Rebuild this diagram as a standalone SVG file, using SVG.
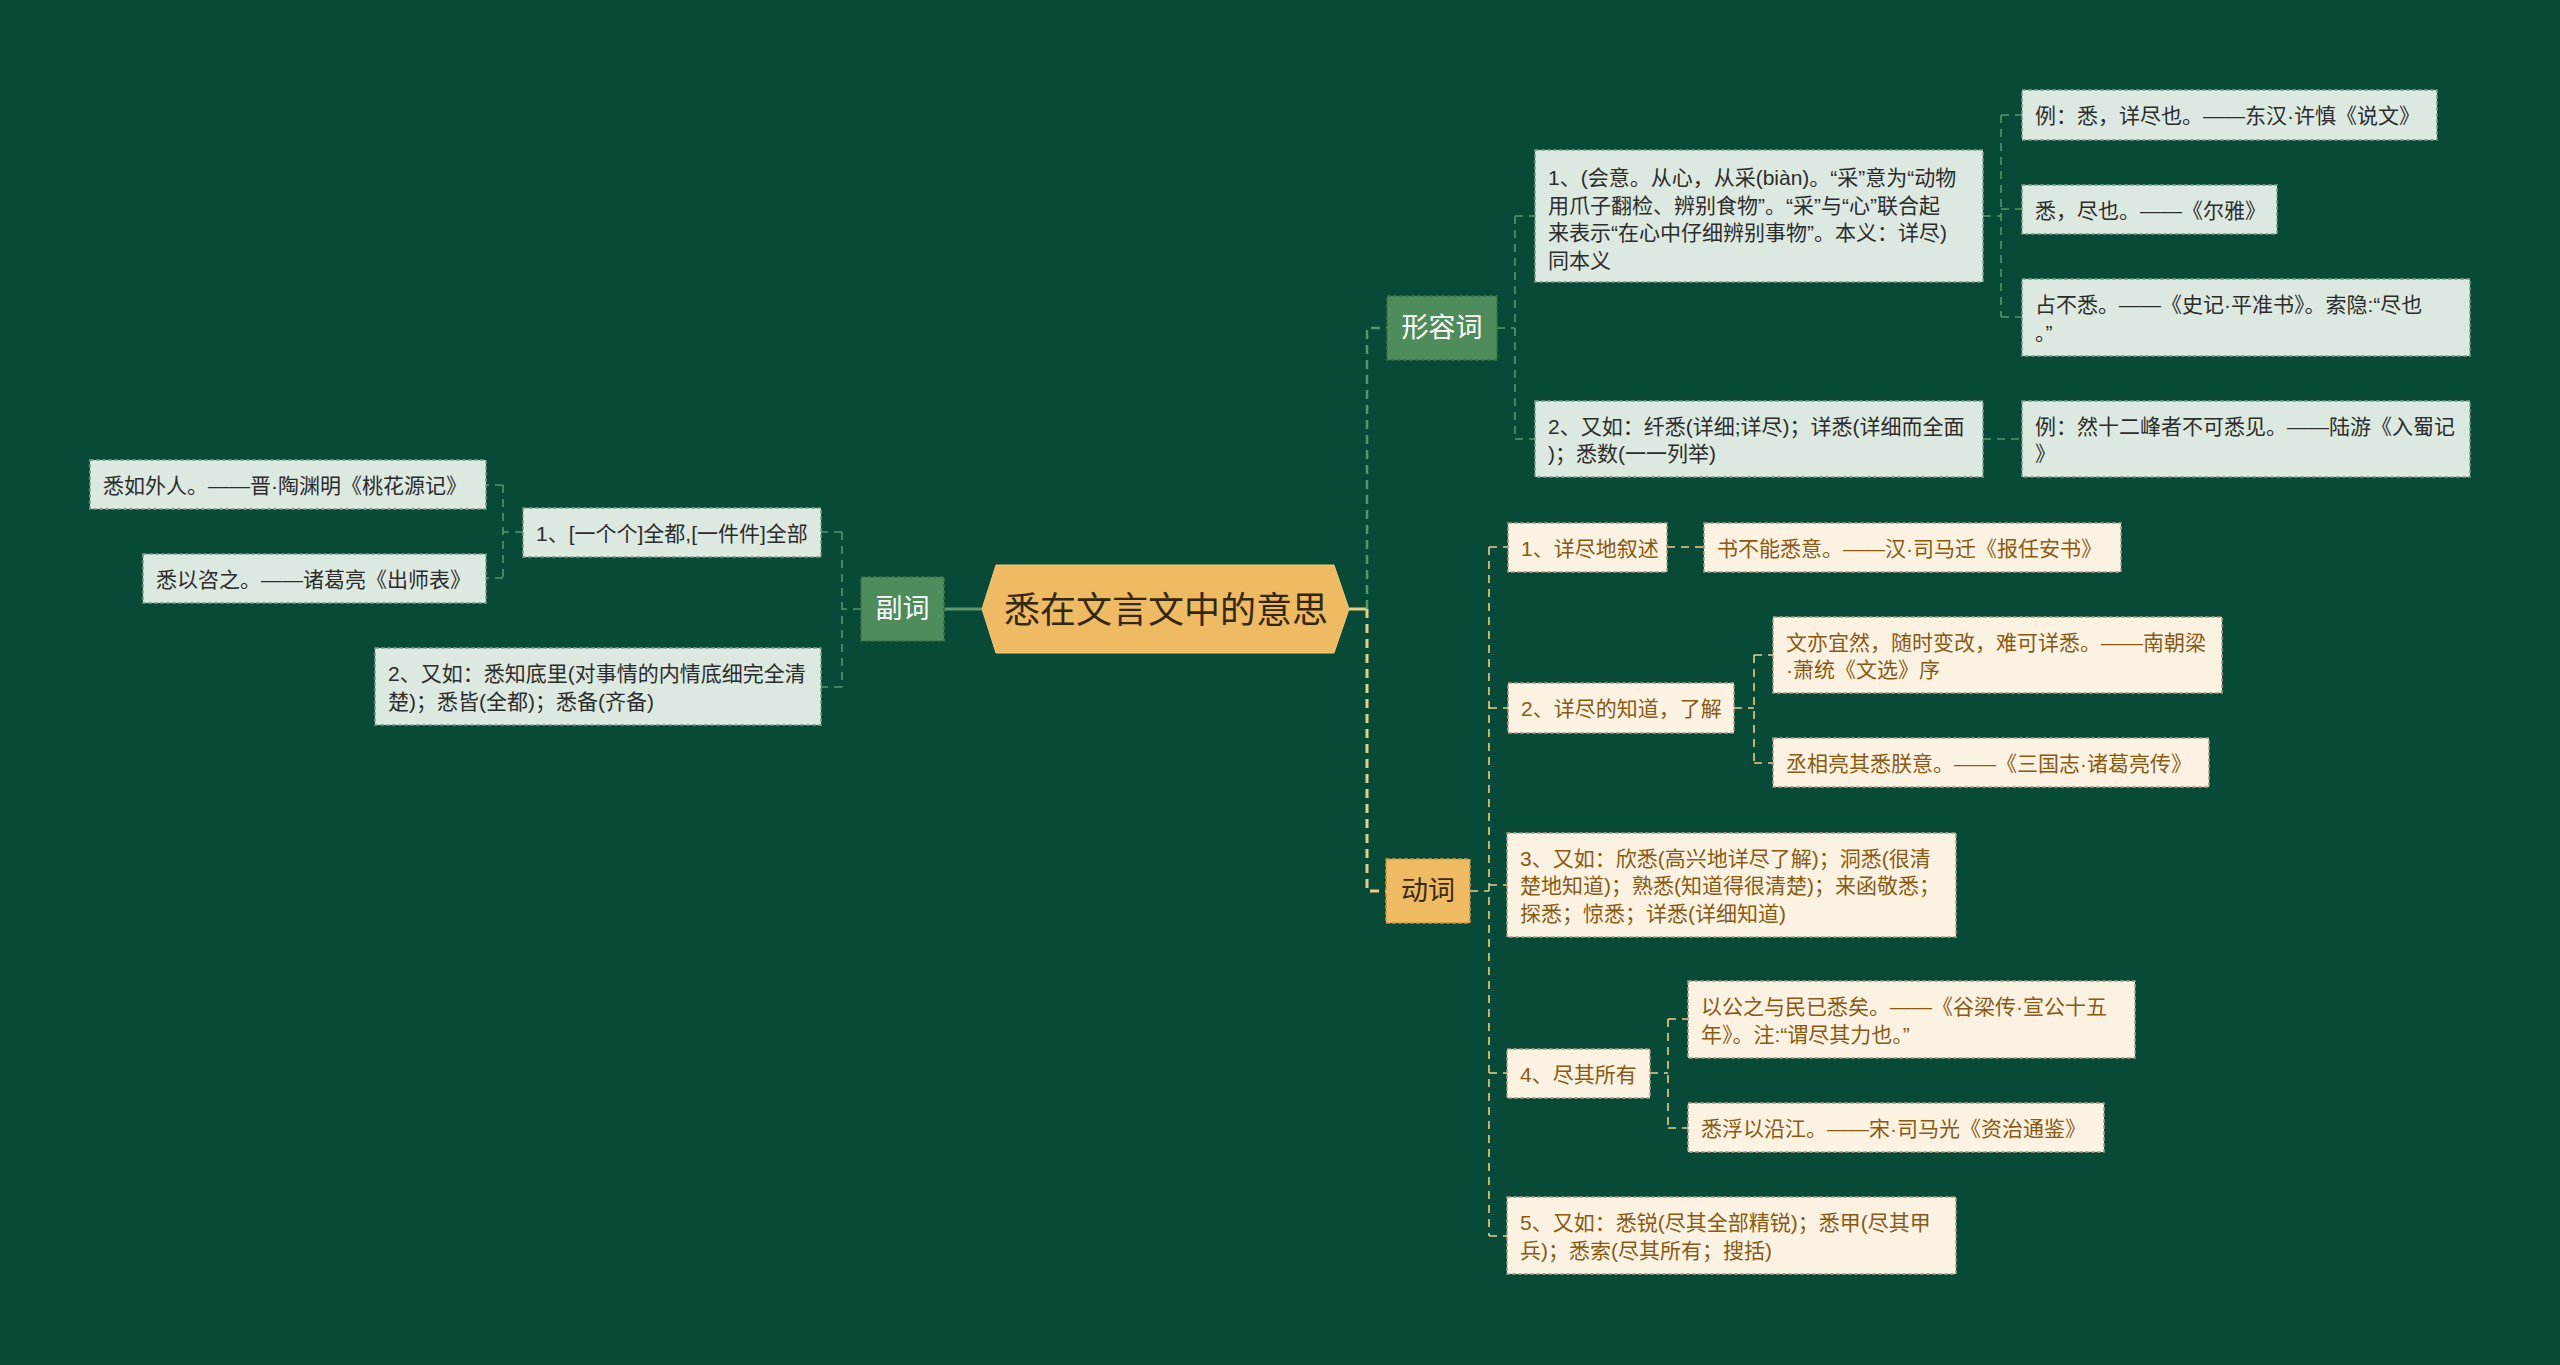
<svg xmlns="http://www.w3.org/2000/svg" width="2560" height="1365" viewBox="0 0 2560 1365">
<style>
text{font-family:"Liberation Sans","Noto Sans CJK SC",sans-serif;dominant-baseline:central}
.bg{fill:#074a38}
.l1g{fill:#4f8c5b;stroke:#3a7048;stroke-width:1.5;stroke-dasharray:4 2}
.l1y{fill:#efbb62;stroke:#c9973e;stroke-width:1.5;stroke-dasharray:4 2}
.m{fill:#dce9e0;stroke:#7f9a88;stroke-width:1.5;stroke-dasharray:4 2}
.c{fill:#fcf2e2;stroke:#a89c84;stroke-width:1.5;stroke-dasharray:4 2}
.tw{fill:#ffffff;font-size:27px}
.td{fill:#2c2c2c;font-size:21px}
.tb{fill:#8a5a12;font-size:21px}
.tl1y{fill:#3a2a12;font-size:27px}
.cg{fill:none;stroke:#4f9a68;stroke-width:1.6;stroke-dasharray:8 6}
.cg2{fill:none;stroke:#4f9a68;stroke-width:2.5;stroke-dasharray:9 6}
.cy{fill:none;stroke:#e9d08a;stroke-width:1.6;stroke-dasharray:8 6}
.cy2{fill:none;stroke:#e9cf86;stroke-width:3;stroke-dasharray:9 6}
</style>
<rect class="bg" x="0" y="0" width="2560" height="1365"/>

<g id="connectors">
<path d="M944,609 H982" fill="none" stroke="#5a9a6a" stroke-width="3"/>
<path d="M1349,609 H1367" fill="none" stroke="#e9cf86" stroke-width="3"/>
<path class="cg2" d="M1367,609 V328 H1387"/>
<path class="cy2" d="M1367,609 V891 H1386"/>
<path class="cg" d="M861,609 H842 M842,532 V687 M842,532 H821 M842,687 H821"/>
<path class="cg" d="M523,532 H503 M503,485 V578 M503,485 H486 M503,578 H486"/>
<path class="cg" d="M1497,328 H1515 M1515,216 V439 M1515,216 H1535 M1515,439 H1535"/>
<path class="cg" d="M1983,216 H2001 M2001,115 V317 M2001,115 H2022 M2001,209 H2022 M2001,317 H2022"/>
<path class="cg" d="M1983,439 H2022"/>
<path class="cy" d="M1470,891 H1489 M1489,547 V1236 M1489,547 H1508 M1489,708 H1508 M1489,885 H1507 M1489,1073 H1507 M1489,1236 H1507"/>
<path class="cy" d="M1667,547 H1704"/>
<path class="cy" d="M1734,708 H1754 M1754,655 V763 M1754,655 H1773 M1754,763 H1773"/>
<path class="cy" d="M1650,1073 H1668 M1668,1019 V1128 M1668,1019 H1688 M1668,1128 H1688"/>
</g>

<g id="root">
<polygon points="982,609 996,565 1334,565 1349,609 1334,653 996,653" fill="#efbb62" stroke="#f3c877" stroke-width="1"/>
<text x="1166" y="610" text-anchor="middle" font-size="36" fill="#33270f">悉在文言文中的意思</text>
</g>

<g id="fuci">
<rect class="l1g" x="861" y="577" width="83" height="64"/>
<text class="tw" x="902.5" y="609" text-anchor="middle">副词</text>
</g>
<g id="fuci-1">
<rect class="m" x="523" y="508" width="298" height="49"/>
<text class="td" x="536" y="533">1、[一个个]全都,[一件件]全部</text>
</g>
<g id="fuci-1-a">
<rect class="m" x="90" y="460" width="396" height="49"/>
<text class="td" x="103" y="485">悉如外人。——晋·陶渊明《桃花源记》</text>
</g>
<g id="fuci-1-b">
<rect class="m" x="143" y="554" width="343" height="49"/>
<text class="td" x="156" y="579">悉以咨之。——诸葛亮《出师表》</text>
</g>
<g id="fuci-2">
<rect class="m" x="375" y="648" width="446" height="77"/>
<text class="td" x="388" y="673">2、又如：悉知底里(对事情的内情底细完全清</text>
<text class="td" x="388" y="701">楚)；悉皆(全都)；悉备(齐备)</text>
</g>

<g id="xingrongci">
<rect class="l1g" x="1387" y="296" width="110" height="64"/>
<text class="tw" x="1442" y="328" text-anchor="middle">形容词</text>
</g>
<g id="xrc-1">
<rect class="m" x="1535" y="150" width="448" height="132"/>
<text class="td" x="1548" y="177">1、(会意。从心，从采(biàn)。“采”意为“动物</text>
<text class="td" x="1548" y="205">用爪子翻检、辨别食物”。“采”与“心”联合起</text>
<text class="td" x="1548" y="232">来表示“在心中仔细辨别事物”。本义：详尽)</text>
<text class="td" x="1548" y="260">同本义</text>
</g>
<g id="xrc-1-a">
<rect class="m" x="2022" y="90" width="415" height="50"/>
<text class="td" x="2035" y="115">例：悉，详尽也。——东汉·许慎《说文》</text>
</g>
<g id="xrc-1-b">
<rect class="m" x="2022" y="185" width="255" height="49"/>
<text class="td" x="2035" y="210">悉，尽也。——《尔雅》</text>
</g>
<g id="xrc-1-c">
<rect class="m" x="2022" y="279" width="448" height="77"/>
<text class="td" x="2035" y="304">占不悉。——《史记·平准书》。索隐:“尽也</text>
<text class="td" x="2035" y="332">。”</text>
</g>
<g id="xrc-2">
<rect class="m" x="1535" y="401" width="448" height="76"/>
<text class="td" x="1548" y="426">2、又如：纤悉(详细;详尽)；详悉(详细而全面</text>
<text class="td" x="1548" y="453">)；悉数(一一列举)</text>
</g>
<g id="xrc-2-a">
<rect class="m" x="2022" y="401" width="448" height="76"/>
<text class="td" x="2035" y="426">例：然十二峰者不可悉见。——陆游《入蜀记</text>
<text class="td" x="2035" y="453">》</text>
</g>

<g id="dongci">
<rect class="l1y" x="1386" y="859" width="84" height="64"/>
<text class="tl1y" x="1428" y="891" text-anchor="middle">动词</text>
</g>
<g id="dc-1">
<rect class="c" x="1508" y="523" width="159" height="49"/>
<text class="tb" x="1521" y="548">1、详尽地叙述</text>
</g>
<g id="dc-1-a">
<rect class="c" x="1704" y="523" width="417" height="49"/>
<text class="tb" x="1717" y="548">书不能悉意。——汉·司马迁《报任安书》</text>
</g>
<g id="dc-2">
<rect class="c" x="1508" y="683" width="226" height="50"/>
<text class="tb" x="1521" y="708">2、详尽的知道，了解</text>
</g>
<g id="dc-2-a">
<rect class="c" x="1773" y="617" width="449" height="76"/>
<text class="tb" x="1786" y="642">文亦宜然，随时变改，难可详悉。——南朝梁</text>
<text class="tb" x="1786" y="669">·萧统《文选》序</text>
</g>
<g id="dc-2-b">
<rect class="c" x="1773" y="738" width="436" height="49"/>
<text class="tb" x="1786" y="763">丞相亮其悉朕意。——《三国志·诸葛亮传》</text>
</g>
<g id="dc-3">
<rect class="c" x="1507" y="833" width="449" height="104"/>
<text class="tb" x="1520" y="858">3、又如：欣悉(高兴地详尽了解)；洞悉(很清</text>
<text class="tb" x="1520" y="885">楚地知道)；熟悉(知道得很清楚)；来函敬悉；</text>
<text class="tb" x="1520" y="913">探悉；惊悉；详悉(详细知道)</text>
</g>
<g id="dc-4">
<rect class="c" x="1507" y="1049" width="143" height="49"/>
<text class="tb" x="1520" y="1074">4、尽其所有</text>
</g>
<g id="dc-4-a">
<rect class="c" x="1688" y="981" width="447" height="77"/>
<text class="tb" x="1701" y="1006">以公之与民已悉矣。——《谷梁传·宣公十五</text>
<text class="tb" x="1701" y="1034">年》。注:“谓尽其力也。”</text>
</g>
<g id="dc-4-b">
<rect class="c" x="1688" y="1103" width="416" height="49"/>
<text class="tb" x="1701" y="1128">悉浮以沿江。——宋·司马光《资治通鉴》</text>
</g>
<g id="dc-5">
<rect class="c" x="1507" y="1197" width="449" height="77"/>
<text class="tb" x="1520" y="1222">5、又如：悉锐(尽其全部精锐)；悉甲(尽其甲</text>
<text class="tb" x="1520" y="1250">兵)；悉索(尽其所有；搜括)</text>
</g>
</svg>
